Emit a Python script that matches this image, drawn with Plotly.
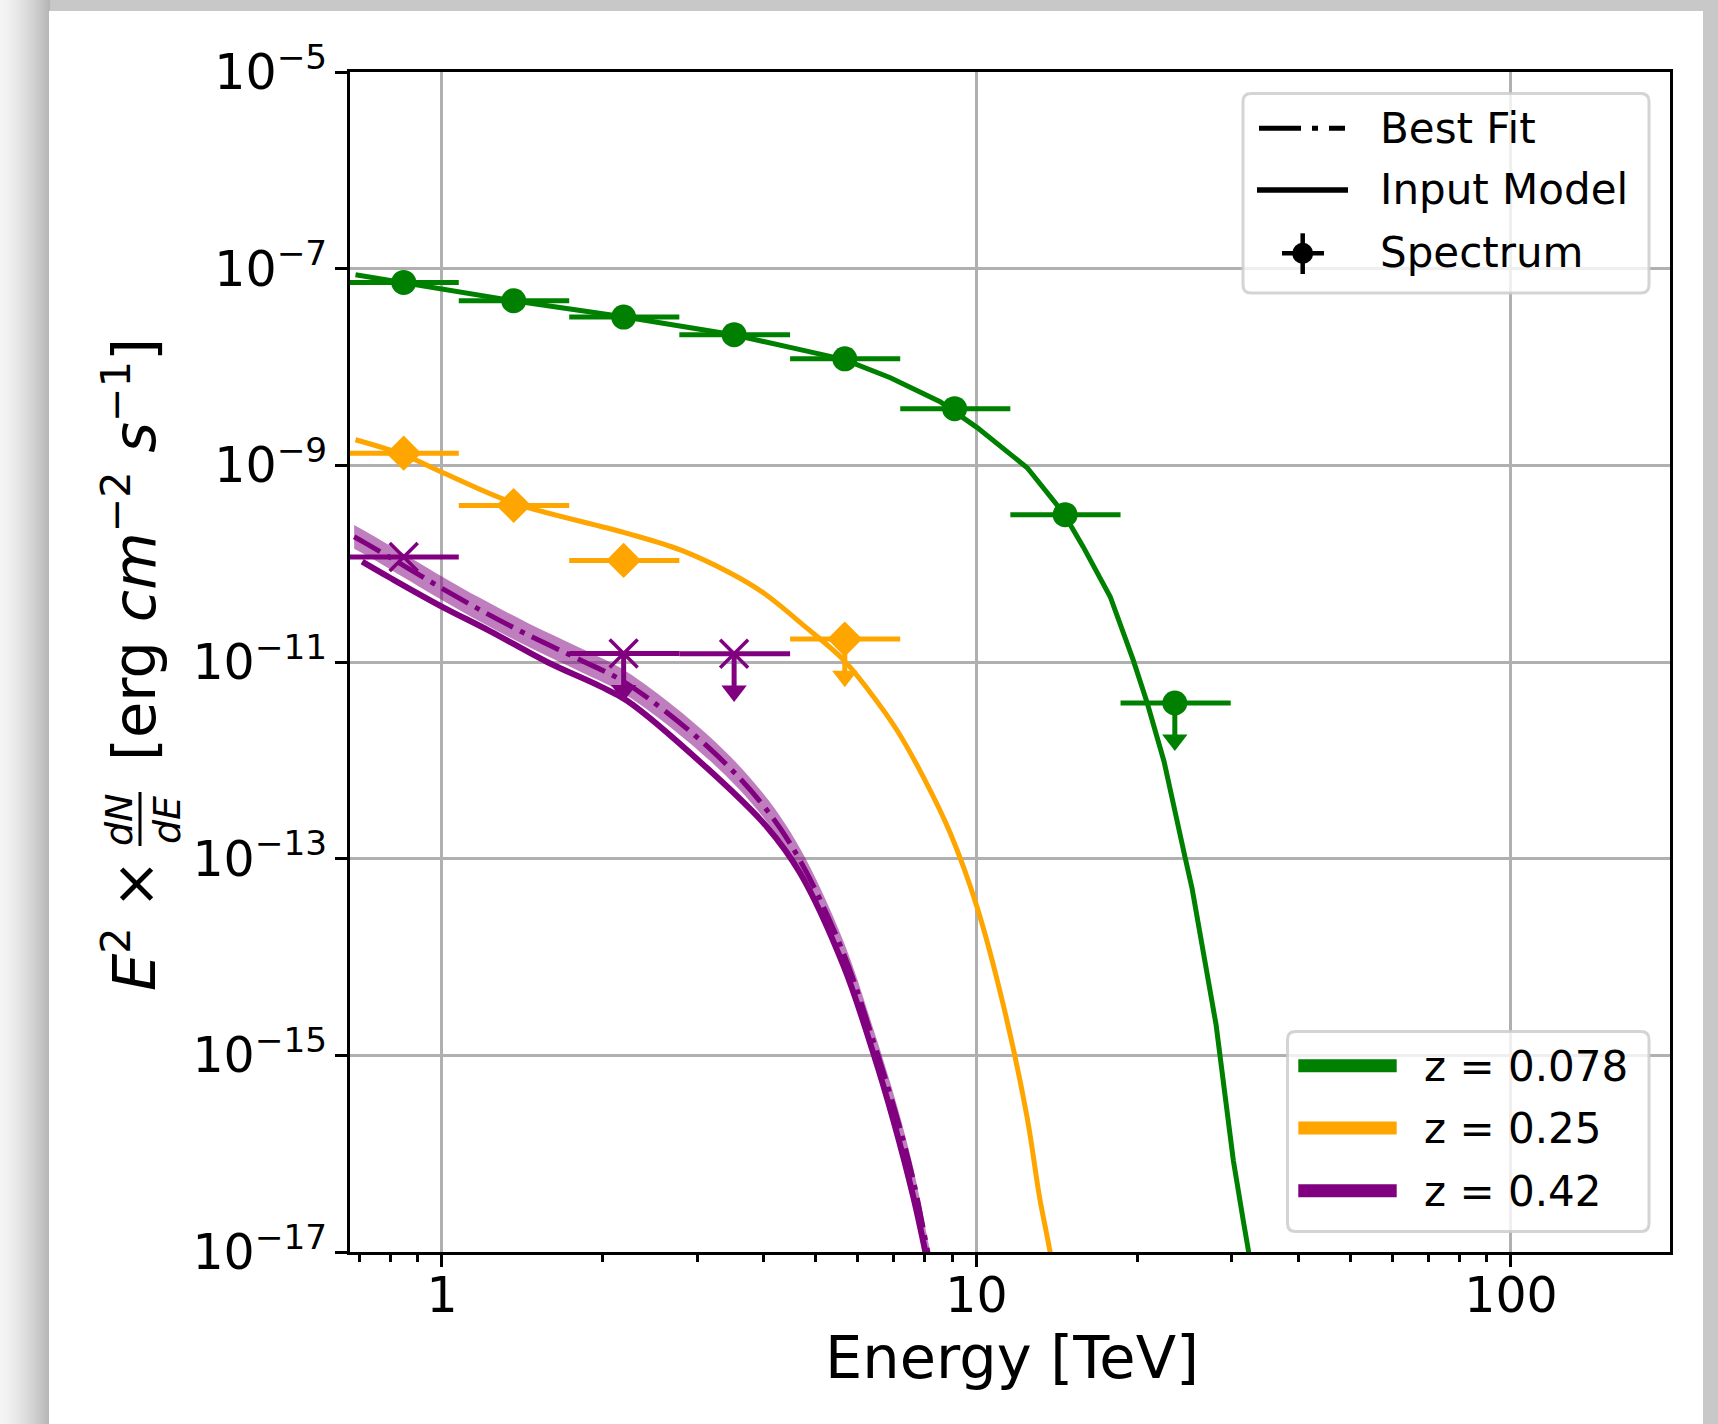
import plotly.graph_objects as go

# ---------------- data ----------------
# z = 0.078 spectrum
g_E = [0.848, 1.362, 2.187, 3.52, 5.67, 9.1, 14.65, 23.5]
g_F = [7.24e-8, 4.72e-8, 3.22e-8, 2.13e-8, 1.21e-8, 3.77e-9, 3.15e-10, 3.83e-12]
g_ul = [False, False, False, False, False, False, False, True]
g_lo = [0.668, 1.075, 1.73, 2.78, 4.48, 7.2, 11.57, 18.6]
g_hi = [1.075, 1.73, 2.78, 4.48, 7.2, 11.57, 18.6, 29.9]

# z = 0.25 spectrum
o_E = [0.848, 1.362, 2.187, 5.67]
o_F = [1.33e-9, 3.91e-10, 1.08e-10, 1.71e-11]
o_ul = [False, False, False, True]
o_lo = [0.668, 1.075, 1.73, 4.48]
o_hi = [1.075, 1.73, 2.78, 7.2]

# z = 0.42 spectrum
p_E = [0.848, 2.187, 3.52]
p_F = [1.17e-10, 1.22e-11, 1.21e-11]
p_ul = [False, True, True]
p_lo = [0.668, 1.73, 2.78]
p_hi = [1.075, 2.78, 4.48]

# input models
g_mod_E = [0.689, 0.847, 1.360, 2.184, 3.507, 4.68, 5.66, 6.90, 8.55, 10.03, 12.44, 14.53,
           15.83, 17.79, 19.64, 20.86, 22.44, 24.57, 25.32, 28.07, 30.24, 31.57, 32.27, 32.9]
g_mod_F = [8.69e-8, 7.20e-8, 4.72e-8, 3.25e-8, 2.13e-8, 1.50e-8, 1.19e-8, 7.78e-9, 4.44e-9,
           2.42e-9, 9.46e-10, 3.30e-10, 1.49e-10, 4.61e-11, 1.05e-11, 3.85e-12, 9.68e-13,
           1.02e-13, 4.94e-14, 2.05e-15, 8.5e-17, 2.06e-17, 1.01e-17, 5.6e-18]

o_mod_E = [0.689, 0.848, 1.007, 1.362, 2.187, 2.792, 3.462, 3.997, 4.78, 5.64, 6.27, 7.11,
           7.96, 8.93, 10.02, 11.25, 12.43, 13.12, 13.73, 13.91]
o_mod_F = [1.82e-9, 1.28e-9, 8.36e-10, 4.14e-10, 2.08e-10, 1.38e-10, 8.03e-11, 5.03e-11,
           2.29e-11, 1.05e-11, 5.22e-12, 2.00e-12, 6.70e-13, 1.82e-13, 3.24e-14, 3.08e-15,
           2.38e-16, 3.62e-17, 1.0e-17, 5.9e-18]

p_mod_E = [0.709, 0.801, 0.993, 1.232, 1.573, 1.978, 2.220, 3.132, 4.055, 4.68, 5.64, 6.42,
           7.00, 7.62, 8.08]
p_mod_F = [1.05e-10, 7.15e-11, 3.73e-11, 2.05e-11, 1.00e-11, 5.65e-12, 4.04e-12, 8.34e-13,
           2.10e-13, 7.10e-14, 8.11e-15, 1.03e-15, 2.12e-16, 3.6e-17, 8.3e-18]

# best fit (z = 0.42) with uncertainty band
p_fit_E = [0.685, 0.719, 0.836, 0.979, 1.189, 1.453, 1.815, 2.220, 3.177, 3.997, 4.68, 5.64,
           6.42, 7.10, 7.62, 8.08, 8.26]
p_fit_F = [1.88e-10, 1.62e-10, 1.0e-10, 6.0e-11, 3.3e-11, 1.87e-11, 1.05e-11, 6.01e-12,
           1.30e-12, 3.44e-13, 9.53e-14, 1.09e-14, 1.38e-15, 2.33e-16, 5.33e-17, 1.1e-17, 5.9e-18]
p_band_hi = [2.48e-10, 2.14e-10, 1.32e-10, 7.92e-11, 4.36e-11, 2.47e-11, 1.39e-11, 7.93e-12,
             1.72e-12, 4.54e-13, 1.26e-13, 1.44e-14, 1.82e-15, 3.08e-16, 7.04e-17, 1.45e-17, 7.8e-18]
p_band_lo = [1.42e-10, 1.23e-10, 7.58e-11, 4.55e-11, 2.50e-11, 1.42e-11, 7.95e-12, 4.55e-12,
             9.85e-13, 2.61e-13, 7.22e-14, 8.26e-15, 1.05e-15, 1.77e-16, 4.04e-17, 8.33e-18, 4.47e-18]

x_tick_vals = [1, 10, 100]
x_tick_text = ["1", "10", "100"]
x_minor_vals = [0.7, 0.8, 0.9, 2, 3, 4, 5, 6, 7, 8, 9, 20, 30, 40, 50, 60, 70, 80, 90]
y_exps = [-17, -15, -13, -11, -9, -7, -5]

z_labels = ["z = 0.078", "z = 0.25", "z = 0.42"]
style_labels = ["Best Fit", "Input Model", "Spectrum"]

# ---------------- styling / layout ----------------
W, H = 1718, 1424
PL, PR, PT, PB = 350, 1670, 72, 1252
FONT = "DejaVu Sans"
GREEN, ORANGE, PURPLE = "#008000", "#ffa500", "#800080"
UL_HEAD = 0.42   # arrow-head position relative to upper-limit value
ERR_W = 5
SMOOTH = dict(shape="spline", smoothing=1.0)


def X(px):
    return (px - PL) / (PR - PL)


def Y(py):
    return (PB - py) / (PB - PT)


fig = go.Figure()

# uncertainty band of the best fit
fig.add_trace(go.Scatter(
    x=p_fit_E + p_fit_E[::-1], y=p_band_hi + p_band_lo[::-1],
    mode="lines", fill="toself", fillcolor="rgba(128,0,128,0.5)",
    line=dict(width=0, **SMOOTH), hoverinfo="skip", showlegend=False))

# input models
fig.add_trace(go.Scatter(x=g_mod_E, y=g_mod_F, mode="lines",
                         line=dict(color=GREEN, width=5), showlegend=False))
fig.add_trace(go.Scatter(x=o_mod_E, y=o_mod_F, mode="lines",
                         line=dict(color=ORANGE, width=5, **SMOOTH), showlegend=False))
fig.add_trace(go.Scatter(x=p_mod_E, y=p_mod_F, mode="lines",
                         line=dict(color=PURPLE, width=6, **SMOOTH), showlegend=False))

# best fit
fig.add_trace(go.Scatter(x=p_fit_E, y=p_fit_F, mode="lines",
                         line=dict(color=PURPLE, width=5, dash="30px,8px,5px,8px", **SMOOTH),
                         showlegend=False))


def add_spectrum(E, F, lo, hi, ul, color, symbol, size, lw):
    n = len(E)
    fig.add_trace(go.Scatter(
        x=E, y=F, mode="markers",
        marker=dict(symbol=symbol, size=size, color=color, line=dict(color=color, width=lw)),
        error_x=dict(type="data", symmetric=False,
                     array=[h - e for e, h in zip(E, hi)],
                     arrayminus=[e - l for e, l in zip(E, lo)],
                     color=color, thickness=ERR_W, width=0),
        error_y=dict(type="data", symmetric=False, array=[0] * n,
                     arrayminus=[f * (1 - UL_HEAD) if u else 0 for f, u in zip(F, ul)],
                     color=color, thickness=ERR_W, width=0),
        showlegend=False))
    fig.add_trace(go.Scatter(
        x=[e for e, u in zip(E, ul) if u],
        y=[f * UL_HEAD for f, u in zip(F, ul) if u],
        mode="markers",
        marker=dict(symbol="triangle-down", size=22, color=color, line=dict(width=0)),
        showlegend=False))


add_spectrum(g_E, g_F, g_lo, g_hi, g_ul, GREEN, "circle", 25, 0)
add_spectrum(o_E, o_F, o_lo, o_hi, o_ul, ORANGE, "diamond", 27, 0)
add_spectrum(p_E, p_F, p_lo, p_hi, p_ul, PURPLE, "x-thin", 28, 3.5)

shapes = []
# gray frame with white card (soft shadow at the left)
N_STRIPS = 25
for i in range(N_STRIPS):
    v = int(244 - (244 - 182) * (i / (N_STRIPS - 1)) ** 1.5)
    shapes.append(dict(type="rect", xref="paper", yref="paper", layer="below",
                       x0=X(i * 2), x1=X(i * 2 + 2.2), y0=Y(H + 10), y1=Y(-10),
                       fillcolor=f"rgb({v},{v},{v})", line=dict(width=0)))
shapes.append(dict(type="rect", xref="paper", yref="paper", layer="below",
                   x0=X(49), x1=X(1703), y0=Y(H + 10), y1=Y(11),
                   fillcolor="white", line=dict(width=0)))


def rounded(x0, y0, x1, y1, r):
    return (f"M {X(x0 + r)},{Y(y0)} L {X(x1 - r)},{Y(y0)} Q {X(x1)},{Y(y0)} {X(x1)},{Y(y0 + r)} "
            f"L {X(x1)},{Y(y1 - r)} Q {X(x1)},{Y(y1)} {X(x1 - r)},{Y(y1)} "
            f"L {X(x0 + r)},{Y(y1)} Q {X(x0)},{Y(y1)} {X(x0)},{Y(y1 - r)} "
            f"L {X(x0)},{Y(y0 + r)} Q {X(x0)},{Y(y0)} {X(x0 + r)},{Y(y0)} Z")


for box in [(1243, 93.5, 1649, 293), (1287.5, 1031.5, 1649, 1231.5)]:
    shapes.append(dict(type="path", xref="paper", yref="paper", layer="above",
                       path=rounded(*box, 8), fillcolor="rgba(255,255,255,0.8)",
                       line=dict(color="rgba(204,204,204,0.85)", width=3)))

# legend 1 handles
shapes.append(dict(type="line", xref="paper", yref="paper", layer="above",
                   x0=X(1259), x1=X(1345), y0=Y(128.3), y1=Y(128.3),
                   line=dict(color="black", width=5, dash="42px,11px,6px,11px")))
shapes.append(dict(type="line", xref="paper", yref="paper", layer="above",
                   x0=X(1257), x1=X(1348), y0=Y(190), y1=Y(190),
                   line=dict(color="black", width=5.3)))
shapes.append(dict(type="line", xref="paper", yref="paper", layer="above",
                   x0=X(1282), x1=X(1324), y0=Y(253.3), y1=Y(253.3),
                   line=dict(color="black", width=4.5)))
shapes.append(dict(type="line", xref="paper", yref="paper", layer="above",
                   x0=X(1302.7), x1=X(1302.7), y0=Y(233.3), y1=Y(274),
                   line=dict(color="black", width=4.5)))
shapes.append(dict(type="circle", xref="paper", yref="paper", layer="above",
                   x0=X(1292.2), x1=X(1313.2), y0=Y(263.8), y1=Y(242.8),
                   fillcolor="black", line=dict(width=0)))

# legend 2 handles
for yc, c in zip([1065.8, 1128, 1190.7], [GREEN, ORANGE, PURPLE]):
    shapes.append(dict(type="rect", xref="paper", yref="paper", layer="above",
                       x0=X(1298.3), x1=X(1396.7), y0=Y(yc + 6.5), y1=Y(yc - 6.5),
                       fillcolor=c, line=dict(width=0)))

# fraction bar of the y title
shapes.append(dict(type="line", xref="paper", yref="paper", layer="above",
                   x0=X(140), x1=X(140), y0=Y(792), y1=Y(846),
                   line=dict(color="black", width=3)))

annotations = []
for yc, t in zip([128, 190, 253], style_labels):
    annotations.append(dict(text=t, x=X(1378), y=Y(yc), xref="paper", yref="paper",
                            xanchor="left", yanchor="middle", showarrow=False,
                            font=dict(family=FONT, size=42, color="black")))
for yc, t in zip([1066, 1128, 1191], z_labels):
    annotations.append(dict(text=t, x=X(1422), y=Y(yc), xref="paper", yref="paper",
                            xanchor="left", yanchor="middle", showarrow=False,
                            font=dict(family=FONT, size=42, color="black")))

# axis titles
annotations.append(dict(text="Energy [TeV]", x=X(1012), y=Y(1357), xref="paper", yref="paper",
                        xanchor="center", yanchor="middle", showarrow=False,
                        font=dict(family=FONT, size=59, color="black")))
annotations.append(dict(text="[erg <i>cm</i><sup>−2</sup> <i>s</i><sup>−1</sup>]",
                        x=X(130), y=Y(550), xref="paper", yref="paper", textangle=-90,
                        xanchor="center", yanchor="middle", showarrow=False,
                        font=dict(family=FONT, size=59, color="black")))
annotations.append(dict(text="<i>E</i><sup>2</sup> ×",
                        x=X(130), y=Y(925), xref="paper", yref="paper", textangle=-90,
                        xanchor="center", yanchor="middle", showarrow=False,
                        font=dict(family=FONT, size=59, color="black")))
annotations.append(dict(text="<i>dN</i>", x=X(119), y=Y(820), xref="paper", yref="paper",
                        textangle=-90, xanchor="center", yanchor="middle", showarrow=False,
                        font=dict(family=FONT, size=38, color="black")))
annotations.append(dict(text="<i>dE</i>", x=X(167), y=Y(820), xref="paper", yref="paper",
                        textangle=-90, xanchor="center", yanchor="middle", showarrow=False,
                        font=dict(family=FONT, size=38, color="black")))

fig.update_layout(
    width=W, height=H,
    margin=dict(l=PL, r=W - PR, t=PT, b=H - PB, pad=0),
    paper_bgcolor="#c8c8c8", plot_bgcolor="white",
    showlegend=False,
    font=dict(family=FONT, color="black"),
    shapes=shapes, annotations=annotations,
)
fig.update_xaxes(
    type="log", range=[-0.1721, 2.2975],
    tickvals=x_tick_vals, ticktext=x_tick_text,
    tickfont=dict(family=FONT, size=49, color="black"),
    ticks="outside", ticklen=12, tickwidth=3, tickcolor="black", ticklabelstandoff=-14,
    minor=dict(tickvals=x_minor_vals, ticks="outside", ticklen=7, tickwidth=2.5,
               tickcolor="black", showgrid=False),
    showgrid=True, gridcolor="#b0b0b0", gridwidth=2.7,
    showline=True, linecolor="black", linewidth=3, mirror=True, zeroline=False,
)
fig.update_yaxes(
    type="log", range=[-17, -5],
    tickvals=[10.0 ** e for e in y_exps],
    ticktext=[f"10<sup>−{-e}</sup>" for e in y_exps],
    tickfont=dict(family=FONT, size=49, color="black"),
    ticks="outside", ticklen=12, tickwidth=3, tickcolor="black", ticklabelstandoff=-2,
    showgrid=True, gridcolor="#b0b0b0", gridwidth=2.7,
    showline=True, linecolor="black", linewidth=3, mirror=True, zeroline=False,
)

fig.write_html("out.html")
